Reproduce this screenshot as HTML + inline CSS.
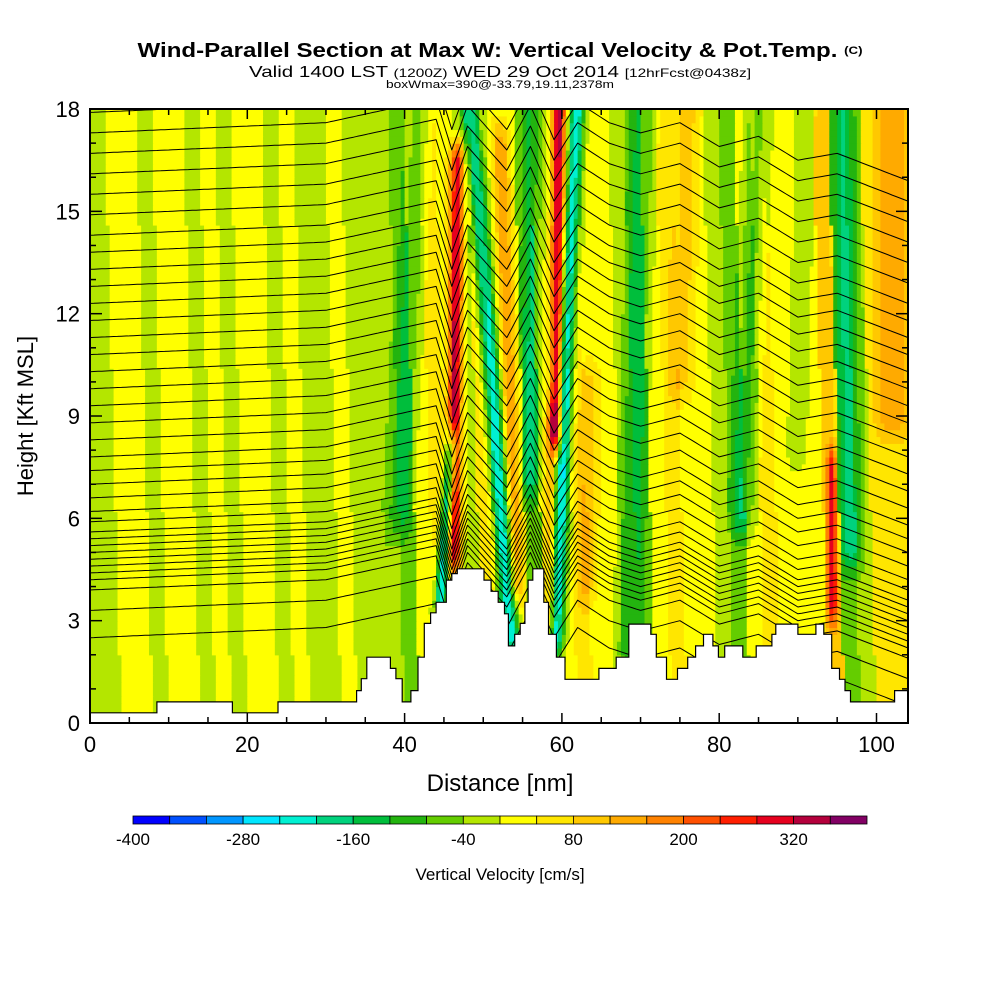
<!DOCTYPE html>
<html><head><meta charset="utf-8">
<style>
html,body{margin:0;padding:0;background:#fff;}
svg{display:block;font-family:"Liberation Sans",sans-serif;}
</style></head>
<body>
<svg id="chart" width="1000" height="1000" viewBox="0 0 1000 1000">
  <text x="500" y="57" text-anchor="middle" font-size="20" font-weight="bold" textLength="725" lengthAdjust="spacingAndGlyphs">Wind-Parallel Section at Max W: Vertical Velocity &amp; Pot.Temp. <tspan font-size="11" dy="-3">(C)</tspan></text>
  <text x="500" y="77" text-anchor="middle" font-size="16" textLength="502" lengthAdjust="spacingAndGlyphs">Valid 1400 LST <tspan font-size="12">(1200Z)</tspan> WED 29 Oct 2014 <tspan font-size="12">[12hrFcst@0438z]</tspan></text>
  <text x="500" y="88" text-anchor="middle" font-size="11" textLength="228" lengthAdjust="spacingAndGlyphs">boxWmax=390@-33.79,19.11,2378m</text>
  <defs><clipPath id="plotclip"><rect x="90" y="109" width="818" height="614"/></clipPath></defs>
  <g id="field" clip-path="url(#plotclip)"></g>
  <g id="isen" clip-path="url(#plotclip)"></g>
  <g id="terrain" clip-path="url(#plotclip)"></g>
  <rect x="90" y="109" width="818" height="614" fill="none" stroke="#000" stroke-width="2"/>
  <g id="axes"></g>
  <text x="500" y="791" text-anchor="middle" font-size="24">Distance [nm]</text>
  <text transform="translate(33,416) rotate(-90)" text-anchor="middle" font-size="22">Height [Kft MSL]</text>
  <g id="cbar"></g>
  <text x="500" y="880" text-anchor="middle" font-size="17">Vertical Velocity [cm/s]</text>
</svg>
<script>
// ---- data ----
const colorLevels = [-400,-360,-320,-280,-240,-200,-160,-120,-80,-40,0,40,80,120,160,200,240,280,320,360,400];
const colorHex = ["#0000ff","#0050ff","#0096ff","#00e6ff","#00f0d2","#00d27d","#00be3c","#23b40f","#64cd00","#b4e600","#ffff00","#ffe600","#ffc800","#ffaa00","#ff8200","#ff5000","#ff1e00","#e6001e","#b4003c","#820064"];
const cbarLabels = [-400,-280,-160,-40,80,200,320];
const xTicks = [0,20,40,60,80,100];
const yTicks = [0,3,6,9,12,15,18];
// background w (cm/s) per 2 nm column
const bgW = [-20,-20,20,20,-20,20,20,-20,20,-30,20,20,-20,20,-20,-20,20,-20,-20,-30,-60,20,60,20,-20,60,20,20,-60,20,20,60,20,20,-20,-60,20,60,20,20,-20,-60,20,60,20,20,20,100,-60,-20,60,60];
// tilted bands: x at 0 kft, x at 18 kft, width nm, peak cm/s, bottom kft, top kft
const bandXb   = [46.0,43.5,54.3,55.0,59.0,58.5,58.8,55.5,38.0,68.0,82.0,97.0,94.5,102.0,74.0,63.0,89.0];
const bandXt   = [46.8,49.0,48.5,52.0,59.6,59.0,61.8,56.5,42.0,70.5,85.0,96.0,94.0,102.0,76.0,64.0,91.0];
const bandW    = [0.9,0.8,1.1,1.0,0.8,0.8,1.0,1.2,1.5,1.5,1.5,1.5,0.6,2.0,1.5,1.2,1.2];
const bandPeak = [330,-300,-260,140,330,130,-280,-110,-90,-100,-110,-120,220,100,80,80,-60];
const bandBot  = [5,3.5,2.5,4,8.5,3,2.5,7,6,2,6,5,3.5,9,10,4,8];
const bandTop  = [16.5,8,18.5,17,18.5,9,18.5,18,18,18,18,18,7.5,18,18,10,18];
// terrain steps: start distance (nm) and height (kft) of each flat step
const terrStepNm  = [0,8.5,18.1,23.9,33.9,34.5,35.2,38.2,38.9,39.7,40.8,41.7,42.5,43.3,44,45.3,46,46.7,50.1,51,51.9,52.7,53.2,54,54.7,55.3,55.7,56.3,57.7,58.3,59.3,60.4,64.7,66.9,68.5,71.3,72,73.3,74.7,76,77,78,79.2,79.9,80.7,83,84.7,86.7,87.2,90,92.3,93.3,94.3,95.3,96,96.7,100,102.3];
const terrStepKft = [0.3,0.62,0.3,0.62,0.95,1.3,1.93,1.6,1.3,0.62,0.95,1.93,2.92,3.23,3.54,4.19,4.38,4.52,4.19,3.86,3.54,3.2,2.26,2.6,2.92,3.54,4.19,4.52,3.54,2.6,1.93,1.28,1.6,1.93,2.9,2.6,1.93,1.28,1.6,1.93,2.26,2.6,2.26,1.93,2.26,1.93,2.26,2.6,2.9,2.6,2.9,2.6,1.6,1.28,0.95,0.62,0.62,0.95];
// isentrope heights at left edge (kft) and vertical displacement profile
const thetaH = [2.5,3.3,3.9,4.2,4.4,4.6,4.8,5.0,5.2,5.4,5.6,5.9,6.2,6.6,7.0,7.4,7.8,8.3,8.8,9.3,9.8,10.3,10.8,11.3,11.8,12.3,12.8,13.3,13.8,14.3,14.9,15.5,16.1,16.7,17.3,17.9];
const dispNm  = [0,30,40,44,46,48,53,56,59,62,66,70,75,80,85,90,95,104];
const dispKft = [0,0.3,0.8,1.0,-0.5,0.8,-0.5,0.8,-0.8,0.3,-0.3,-0.6,-0.3,-1.0,-0.7,-1.4,-1.2,-2.0];

// ---- scales ----
const NS="http://www.w3.org/2000/svg";
const X = nm => 90 + nm*7.865;
const Y = k => 723 - k*34.11;
function mk(tag, attrs, parent){const e=document.createElementNS(NS,tag);for(const k in attrs)e.setAttribute(k,attrs[k]);parent.appendChild(e);return e;}
function colorFor(v){let i=Math.floor((v+400)/40);i=Math.max(0,Math.min(19,i));return colorHex[i];}
function interp(xs,ys,x){if(x<=xs[0])return ys[0];for(let i=1;i<xs.length;i++){if(x<=xs[i]){const t=(x-xs[i-1])/(xs[i]-xs[i-1]);return ys[i-1]+t*(ys[i]-ys[i-1]);}}return ys[ys.length-1];}
function wAt(x,h){
  let col=Math.floor((x+0.12*h)/2);col=Math.max(0,Math.min(bgW.length-1,col));
  let v=bgW[col];
  for(let b=0;b<bandXb.length;b++){
    const xc=bandXb[b]+(bandXt[b]-bandXb[b])*(h/18);
    let tv=1;
    if(h<bandBot[b])tv=Math.max(0,1-(bandBot[b]-h)/1.0);
    if(h>bandTop[b])tv=Math.max(0,1-(h-bandTop[b])/1.0);
    if(tv<=0)continue;
    const d=(x-xc)/bandW[b];
    v+=bandPeak[b]*Math.exp(-d*d)*tv;
  }
  return v;
}
// ---- field ----
const field=document.getElementById('field');
const dx=0.5, dh=0.2;
for(let h=0;h<18;h+=dh){
  let runStart=0,runColor=null;
  for(let x=0;x<=104+1e-9;x+=dx){
    const c = x<104-1e-9 ? colorFor(wAt(x+dx/2,h+dh/2)) : null;
    if(c!==runColor){
      if(runColor!==null){
        const r=mk('rect',{x:X(runStart).toFixed(2),y:Y(h+dh).toFixed(2),width:(X(x)-X(runStart)+0.6).toFixed(2),height:(dh*34.11+0.6).toFixed(2),fill:runColor},field);
        
        
      }
      runStart=x;runColor=c;
    }
  }
}
// ---- isentropes ----
const isen=document.getElementById('isen');
thetaH.forEach((h0,i)=>{
  let d='';
  for(let x=0;x<=104;x+=0.5){
    const h=h0+interp(dispNm,dispKft,x);
    d+=(x===0?'M':'L')+X(x).toFixed(1)+','+Y(h).toFixed(1);
  }
  const p=mk('path',{d:d,fill:'none',stroke:'#000','stroke-width':1,'stroke-linejoin':'round'},isen);
  
  
});
// ---- terrain ----
const terr=document.getElementById('terrain');
let td='M'+X(0)+','+Y(-0.2);
for(let i=0;i<terrStepNm.length;i++){
  const x0=terrStepNm[i], x1=(i+1<terrStepNm.length)?terrStepNm[i+1]:104;
  td+='L'+X(x0).toFixed(1)+','+Y(terrStepKft[i]).toFixed(1)+'L'+X(x1).toFixed(1)+','+Y(terrStepKft[i]).toFixed(1);
}
td+='L'+X(104)+','+Y(-0.2)+'Z';
const tp=mk('path',{d:td,fill:'#fff',stroke:'#000','stroke-width':1.2},terr);


// ---- axes ----
const axes=document.getElementById('axes');
xTicks.forEach(v=>{
  const t=mk('text',{x:X(v),y:752,'text-anchor':'middle','font-size':22},axes);t.textContent=v;
  
  
});
for(let v=0;v<=104;v+=5){
  const len=(v%20===0)?10:6;
  mk('line',{x1:X(v),y1:723,x2:X(v),y2:723-len,stroke:'#000','stroke-width':1.5},axes);
  mk('line',{x1:X(v),y1:109,x2:X(v),y2:109+len,stroke:'#000','stroke-width':1.5},axes);
}
yTicks.forEach(v=>{
  const t=mk('text',{x:80,y:Y(v)+8,'text-anchor':'end','font-size':22},axes);t.textContent=v;
  
  
});
for(let v=0;v<=18;v+=1){
  const len=(v%3===0)?12:6;
  mk('line',{x1:90,y1:Y(v),x2:90+len,y2:Y(v),stroke:'#000','stroke-width':1.5},axes);
  mk('line',{x1:908,y1:Y(v),x2:908-len,y2:Y(v),stroke:'#000','stroke-width':1.5},axes);
}
// ---- colorbar ----
const cbar=document.getElementById('cbar');
const CX = v => 133 + (v+400)/800*734;
for(let i=0;i<colorHex.length;i++){
  const r=mk('rect',{x:CX(colorLevels[i]),y:816,width:CX(colorLevels[i+1])-CX(colorLevels[i]),height:8,fill:colorHex[i],stroke:'#000','stroke-width':0.8},cbar);
  
  
}
cbarLabels.forEach(v=>{
  const t=mk('text',{x:CX(v),y:845,'text-anchor':'middle','font-size':17},cbar);t.textContent=v;
  
  
});
</script>
</body></html>
